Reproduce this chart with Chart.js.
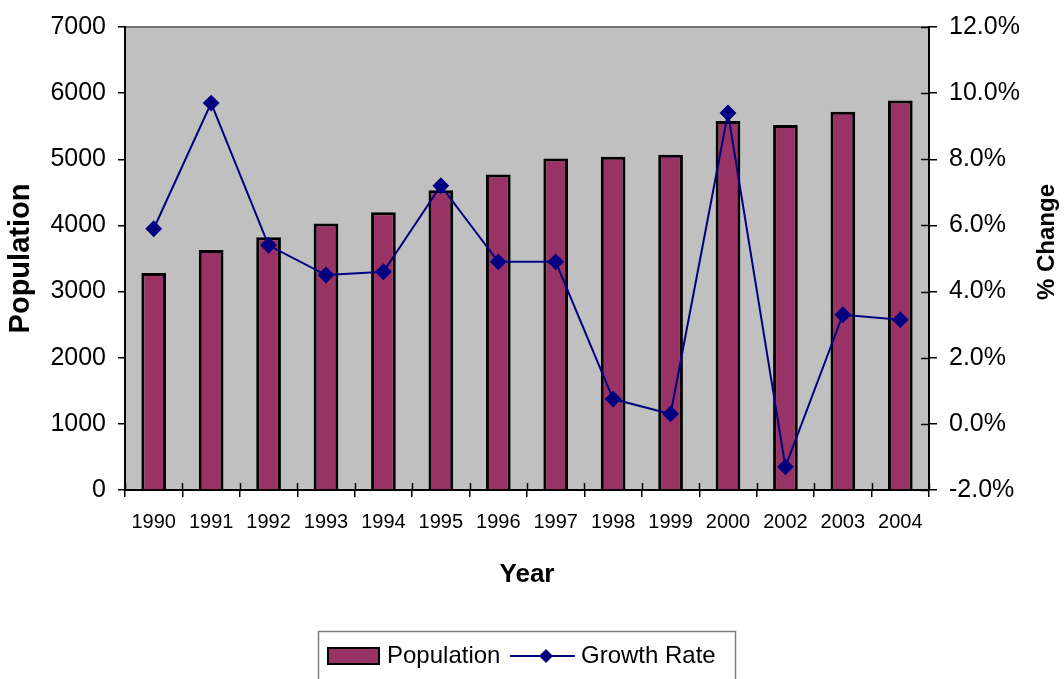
<!DOCTYPE html>
<html>
<head>
<meta charset="utf-8">
<script src="https://cdn.jsdelivr.net/npm/chart.js@4/dist/chart.umd.min.js"></script>
<style>
  html, body { margin: 0; padding: 0; background: #fff; }
  #wrap { width: 1064px; height: 679px; }
</style>
</head>
<body>
<div id="wrap"><canvas id="popChart" width="1064" height="679"></canvas></div>
<script>
const years = ['1990', '1991', '1992', '1993', '1994', '1995', '1996', '1997', '1998', '1999', '2000', '2002', '2003', '2004'];
const population = [3280, 3630, 3820, 4030, 4200, 4530, 4770, 5010, 5040, 5070, 5580, 5520, 5720, 5890];
const growthRate = [5.9, 9.7, 5.4, 4.5, 4.6, 7.2, 4.9, 4.9, 0.75, 0.3, 9.4, -1.3, 3.3, 3.15];

const barColor = '#993366';
const lineColor = '#000080';
const fontFam = '"Liberation Sans", Arial, sans-serif';

// gray plot area, top border, inner tick marks
const plotBg = {
  id: 'plotBg',
  beforeDraw(chart) {
    const { ctx, chartArea: a } = chart;
    ctx.save();
    ctx.fillStyle = '#C0C0C0';
    ctx.fillRect(a.left, a.top, a.right - a.left, a.bottom - a.top);
    ctx.strokeStyle = '#707070';
    ctx.lineWidth = 2;
    ctx.beginPath();
    ctx.moveTo(a.left, a.top);
    ctx.lineTo(a.right, a.top);
    ctx.stroke();
    ctx.restore();
  },
  beforeDatasetsDraw(chart) {
    const { ctx, chartArea: a } = chart;
    ctx.save();
    ctx.strokeStyle = '#000';
    ctx.lineWidth = 1.5;
    const xs = chart.scales.x;
    ctx.beginPath();
    for (let i = 0; i <= years.length; i++) {
      const px = Math.round(xs.left + (xs.width / years.length) * i) + 0.5;
      ctx.moveTo(px, a.bottom - 7);
      ctx.lineTo(px, a.bottom);
    }
    const ys = chart.scales.y1;
    ys.ticks.forEach(t => {
      const py = Math.round(ys.getPixelForValue(t.value)) + 0.5;
      ctx.moveTo(a.right - 8, py);
      ctx.lineTo(a.right, py);
    });
    ctx.stroke();
    ctx.restore();
  }
};

// right title (reads bottom to top) and boxed legend
const extras = {
  id: 'extras',
  afterDraw(chart) {
    const { ctx } = chart;
    const popSet = chart.data.datasets.find(d => d.yAxisID === 'y');
    const rateSet = chart.data.datasets.find(d => d.yAxisID === 'y1');
    ctx.save();
    ctx.fillStyle = '#000';
    ctx.font = 'bold 24px ' + fontFam;
    ctx.textAlign = 'center';
    ctx.textBaseline = 'middle';
    ctx.translate(1047, 242);
    ctx.rotate(-Math.PI / 2);
    ctx.fillText('% Change', 0, 0);
    ctx.restore();

    ctx.save();
    ctx.strokeStyle = '#808080';
    ctx.lineWidth = 1.5;
    ctx.strokeRect(318.5, 631.5, 417, 70);
    // bar swatch
    ctx.fillStyle = barColor;
    ctx.fillRect(328, 648, 51, 16);
    ctx.strokeStyle = '#000';
    ctx.lineWidth = 2;
    ctx.strokeRect(328, 648, 51, 16);
    ctx.fillStyle = '#000';
    ctx.font = '24px ' + fontFam;
    ctx.textBaseline = 'middle';
    ctx.textAlign = 'left';
    ctx.fillText(popSet.label, 387, 656);
    // line swatch
    ctx.strokeStyle = lineColor;
    ctx.lineWidth = 2;
    ctx.beginPath();
    ctx.moveTo(510, 656);
    ctx.lineTo(575, 656);
    ctx.stroke();
    ctx.fillStyle = lineColor;
    ctx.beginPath();
    ctx.moveTo(546, 649); ctx.lineTo(553, 656); ctx.lineTo(546, 663); ctx.lineTo(539, 656);
    ctx.closePath();
    ctx.fill();
    ctx.fillStyle = '#000';
    ctx.fillText(rateSet.label, 581, 656);
    ctx.restore();
  }
};

new Chart(document.getElementById('popChart'), {
  type: 'bar',
  data: {
    labels: years,
    datasets: [
      {
        type: 'line',
        label: 'Growth Rate',
        data: growthRate,
        yAxisID: 'y1',
        borderColor: lineColor,
        backgroundColor: lineColor,
        borderWidth: 2,
        pointStyle: 'rectRot',
        pointRadius: 7,
        pointHoverRadius: 7,
        tension: 0,
        order: 0
      },
      {
        label: 'Population',
        data: population,
        yAxisID: 'y',
        backgroundColor: barColor,
        borderColor: '#000',
        borderWidth: 3,
        categoryPercentage: 1,
        barPercentage: 0.43,
        order: 1
      }
    ]
  },
  options: {
    responsive: false,
    animation: false,
    devicePixelRatio: 1,
    layout: { padding: { top: 23, left: 0, right: 0, bottom: 0 } },
    plugins: {
      legend: { display: false },
      tooltip: { enabled: false }
    },
    scales: {
      x: {
        offset: true,
        grid: { offset: true, drawOnChartArea: false, tickLength: 7, color: '#000', lineWidth: 1.5 },
        border: { color: '#000', width: 2 },
        ticks: { color: '#000', font: { family: fontFam, size: 20 }, padding: 13, maxRotation: 0 },
        title: { display: true, text: 'Year', color: '#000', font: { family: fontFam, size: 26, weight: 'bold' }, padding: { top: 0, bottom: 89 } },
        afterFit(s) { s.height = 189; }
      },
      y: {
        position: 'left',
        min: 0, max: 7000,
        ticks: { stepSize: 1000, color: '#000', font: { family: fontFam, size: 25 }, padding: 12, callback: v => String(v) },
        grid: { drawOnChartArea: false, tickLength: 7, color: '#000', lineWidth: 1.5 },
        border: { color: '#000', width: 2 },
        title: { display: true, text: 'Population', color: '#000', font: { family: fontFam, size: 29, weight: 'bold' }, padding: { top: 4, bottom: 0 } },
        afterFit(s) { s.width = 125; }
      },
      y1: {
        position: 'right',
        min: -2, max: 12,
        ticks: { stepSize: 2, color: '#000', font: { family: fontFam, size: 25 }, padding: 12, callback: v => v.toFixed(1) + '%' },
        grid: { drawOnChartArea: false, tickLength: 8, color: '#000', lineWidth: 1.5 },
        border: { color: '#000', width: 2 },
        afterFit(s) { s.width = 135; }
      }
    }
  },
  plugins: [plotBg, extras]
});
</script>
</body>
</html>
